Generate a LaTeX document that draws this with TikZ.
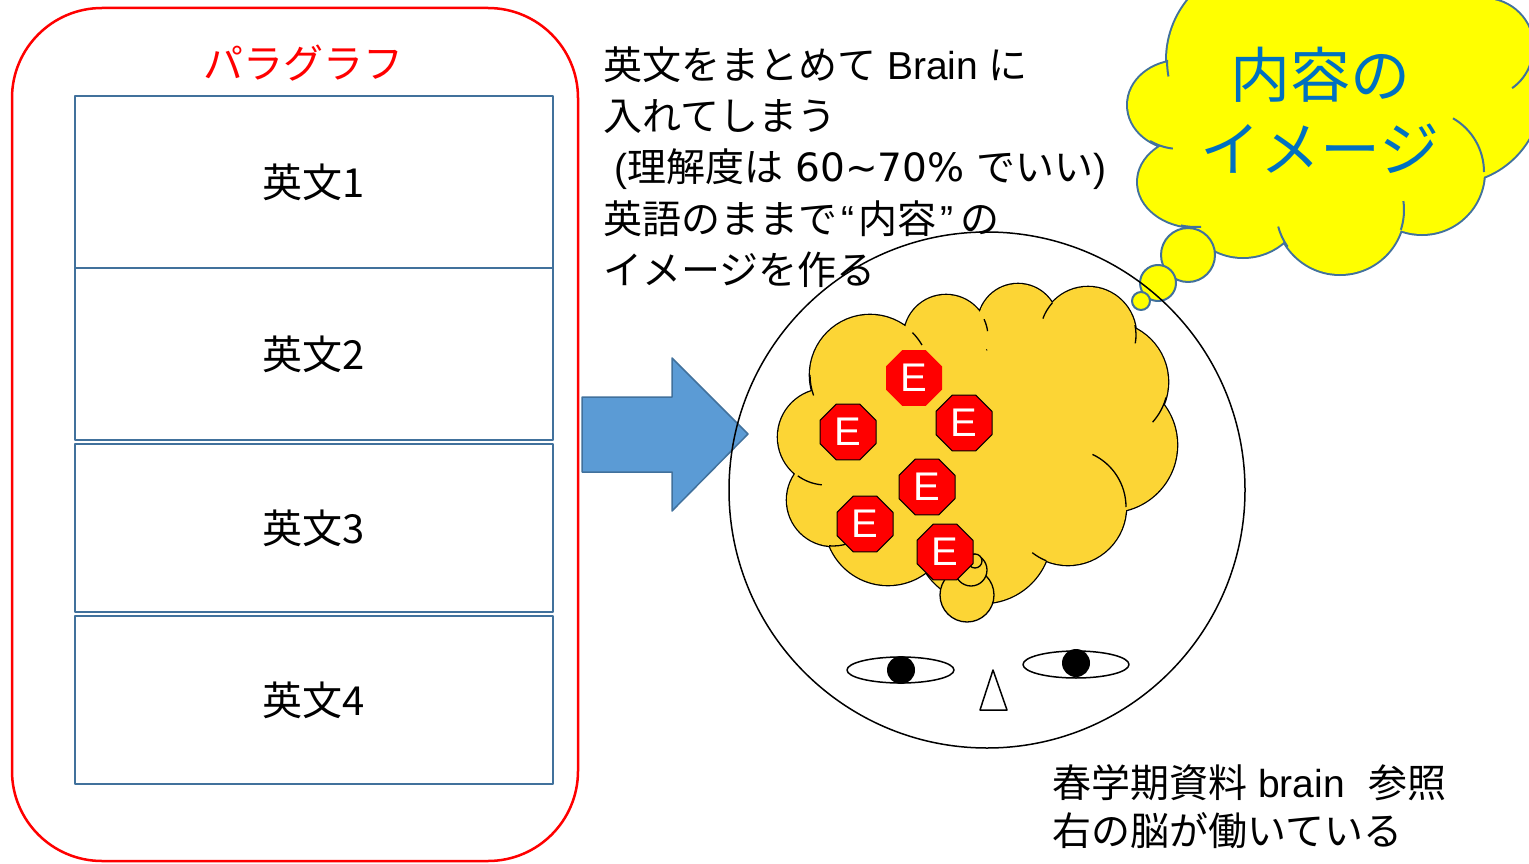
\documentclass[tikz,border=0pt]{standalone}
\usepackage{fontspec}
\setmainfont{Noto Sans CJK JP}
\newfontfamily\latinfont{Liberation Sans}
\newfontfamily\digitfont{DejaVu Sans}
\usetikzlibrary{shapes.geometric}
\definecolor{boxline}{RGB}{65,113,156}
\definecolor{arrowfill}{RGB}{91,155,213}
\definecolor{brainfill}{RGB}{252,213,53}
\definecolor{thinkblue}{RGB}{0,112,192}
\definecolor{cloudedge}{RGB}{65,113,156}
\definecolor{cloudfill}{RGB}{255,255,0}

\begin{document}
\begin{tikzpicture}[x=1pt, y=-1pt, line join=round,
  sentencebox/.style={draw=boxline, line width=2pt, minimum width=478pt,
    inner sep=0pt, outer sep=0pt, font=\fontsize{40}{48}\selectfont},
  textline/.style={anchor=base west, inner sep=0pt, font=\fontsize{39}{47}\selectfont},
  estop/.style={regular polygon, regular polygon sides=8, minimum size=60.6pt,
    inner sep=0pt, fill=red, draw=black, line width=1pt, text=white,
    font=\latinfont\fontsize{40}{40}\selectfont},
  brainline/.style={line width=1.3pt},
  cloudline/.style={draw=cloudedge, line width=2pt},
]
\useasboundingbox (0,0) rectangle (1529,864);
\fill[white] (0,0) rectangle (1529,864);
\clip (0,0) rectangle (1529,864);

% paragraph frame with its four sentences
\draw[red, line width=2.5pt, rounded corners=90pt] (12,8) rectangle (578,861);
\node[text=red, font=\fontsize{40}{48}\selectfont] (para) at (303,63) {パラグラフ};
\node[sentencebox, minimum height=172pt] (s1) at (314,182) {英文1};
\node[sentencebox, minimum height=172pt] (s2) at (314,354) {英文2};
\node[sentencebox, minimum height=168pt] (s3) at (314,528) {英文3};
\node[sentencebox, minimum height=168pt] (s4) at (314,700) {英文4};

% block arrow towards the head
\draw[fill=arrowfill, draw=boxline, line width=1.5pt]
  (582,397) -- (672,397) -- (672,358) -- (748,434) -- (672,511) -- (672,472) -- (582,472) -- cycle;

% explanation
\node[textline] (t1) at (603,80) {英文をまとめて{\latinfont\ Brain\ }に};
\node[textline] (t2) at (603,131) {入れてしまう};
\node[textline] (t3) at (603,182) {{\latinfont\ (}理解度は{\digitfont\ 60\textasciitilde70\%\ }でいい{\latinfont )}};
\node[textline] (t4) at (603,233) {英語のままで\hspace{4pt}{\latinfont “}\hspace{4pt}内容\hspace{4pt}{\latinfont ”}\hspace{7pt}の};
\node[textline] (t5) at (603,284) {イメージを作る};

% thought cloud
\draw[cloudline, line width=4pt, fill=cloudfill]
  (1262,60) circle[radius=95]
  (1180,105) ellipse[x radius=52, y radius=44]
  (1196,182) ellipse[x radius=58, y radius=45]
  (1243,200) ellipse[x radius=60, y radius=57]
  (1340,210) circle[radius=64]
  (1422,172) circle[radius=62]
  (1451,93) circle[radius=90]
  (1484,48) circle[radius=49]
  (1380,0) circle[radius=110];
\fill[cloudfill]
  (1262,60) circle[radius=95]
  (1180,105) ellipse[x radius=52, y radius=44]
  (1196,182) ellipse[x radius=58, y radius=45]
  (1243,200) ellipse[x radius=60, y radius=57]
  (1340,210) circle[radius=64]
  (1422,172) circle[radius=62]
  (1451,93) circle[radius=90]
  (1484,48) circle[radius=49]
  (1380,0) circle[radius=110]
  (1330,130) ellipse[x radius=130, y radius=85];
\draw[cloudline] (1262,60) ++(180:95) arc[start angle=180, end angle=170, radius=95];
\draw[cloudline] (1180,105) ++(125:52 and 44) arc[start angle=125, end angle=98, x radius=52, y radius=44];
\draw[cloudline] (1196,182) ++(105:58 and 45) arc[start angle=105, end angle=85, x radius=58, y radius=45];
\draw[cloudline] (1340,210) ++(145:64) arc[start angle=145, end angle=165, radius=64];
\draw[cloudline] (1340,210) ++(18:64) arc[start angle=18, end angle=-8, radius=64];
\draw[cloudline] (1422,172) ++(-60:62) arc[start angle=-60, end angle=0, radius=62];
\draw[cloudline] (1484,48) ++(20:49) arc[start angle=20, end angle=55, radius=49];
\draw[cloudline, fill=cloudfill] (1188,255) circle[radius=27];
\draw[cloudline, fill=cloudfill] (1158,283) circle[radius=18];
\draw[cloudline, fill=cloudfill] (1141,301) circle[radius=9];
\node[text=thinkblue, align=center, inner sep=0pt,
  font=\fontsize{60}{74}\selectfont] (idea) at (1320,110) {内容の\\イメージ};

% head
\draw[line width=1.5pt] (987,490) circle[radius=258];

% brain cloud
\draw[line width=2.6pt, fill=brainfill] foreach \x/\y/\r in
  {826/437/48, 833/500/46, 888/522/63, 983/535/68, 1068/507/58, 1110/445/67,
   1108/382/60, 1088/335/48, 1018/324/40, 946/337/42, 870/375/60}
  {(\x,\y) circle[radius=\r]};
\fill[brainfill] foreach \x/\y/\r in
  {826/437/48, 833/500/46, 888/522/63, 983/535/68, 1068/507/58, 1110/445/67,
   1108/382/60, 1088/335/48, 1018/324/40, 946/337/42, 870/375/60}
  {(\x,\y) circle[radius=\r]}
  (975,450) ellipse[x radius=140, y radius=100] (1030,390) circle[radius=55];
\draw[brainline] (870,375) ++(180:60) arc[start angle=180, end angle=160, radius=60];
\draw[brainline] (826,437) ++(126:48) arc[start angle=126, end angle=95, radius=48];
\draw[brainline] (833,500) ++(95:46) arc[start angle=95, end angle=72, radius=46];
\draw[brainline] (870,375) ++(-45:60) arc[start angle=-45, end angle=-30, radius=60];
\draw[brainline] (946,337) ++(-25:42) arc[start angle=-25, end angle=-8, radius=42];
\draw[brainline] (1088,335) ++(222:48) arc[start angle=222, end angle=200, radius=48];
\draw[brainline] (1088,335) ++(-12:48) arc[start angle=-12, end angle=10, radius=48];
\draw[brainline] (1108,382) ++(15:60) arc[start angle=15, end angle=42, radius=60];
\draw[brainline] (1068,507) ++(-65:58) arc[start angle=-65, end angle=0, radius=58];
\draw[brainline] (1068,507) ++(112:58) arc[start angle=112, end angle=128, radius=58];
\draw[brainline, fill=brainfill] (967,595) circle[radius=27];
\draw[brainline, fill=brainfill] (971,570) circle[radius=16];
\draw[brainline, fill=brainfill] (975,561) circle[radius=7];

% English sentences stored in the brain
\node[estop, draw=none] (e1) at (914,378) {E};
\node[estop] (e2) at (848,432) {E};
\node[estop] (e3) at (964,423) {E};
\node[estop] (e4) at (927,487) {E};
\node[estop] (e5) at (865,524) {E};
\node[estop] (e6) at (945,552) {E};

% face
\draw[line width=1.5pt] (900.5,670) ellipse[x radius=53.5, y radius=13];
\fill (901,670) circle[radius=14];
\draw[line width=1.5pt] (1076,664.5) ellipse[x radius=53, y radius=13.5];
\fill (1076,663) circle[radius=14];
\draw[line width=1.5pt] (993,670) -- (980,710) -- (1007,710) -- cycle;

% reference note
\node[textline] (n1) at (1052,797) {春学期資料\hspace{11pt}{\latinfont brain}\hspace{24pt}参照};
\node[textline] (n2) at (1052,845) {右の脳が働いている};
\end{tikzpicture}
\end{document}
